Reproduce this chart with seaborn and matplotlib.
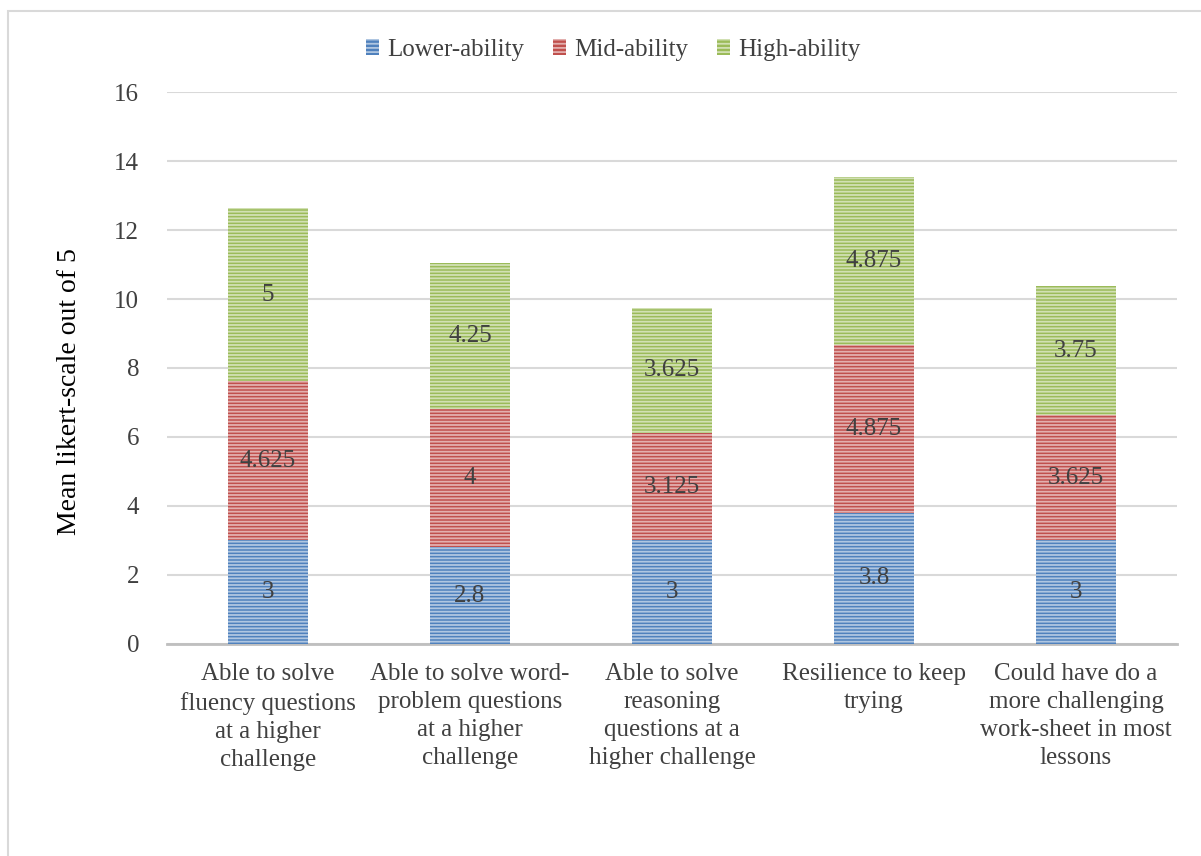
import numpy as np
import pandas as pd
import matplotlib.pyplot as plt
import matplotlib.patches as mpatches
import seaborn as sns

categories = [
    "Able to solve\nfluency questions\nat a higher\nchallenge",
    "Able to solve word-\nproblem questions\nat a higher\nchallenge",
    "Able to solve\nreasoning\nquestions at a\nhigher challenge",
    "Resilience to keep\ntrying",
    "Could have do a\nmore challenging\nwork-sheet in most\nlessons",
]
lower = [3, 2.8, 3, 3.8, 3]
mid = [4.625, 4, 3.125, 4.875, 3.625]
high = [5, 4.25, 3.625, 4.875, 3.75]
series_names = ["Lower-ability", "Mid-ability", "High-ability"]
colors = ["#4F81BD", "#C0504D", "#9BBB59"]

sns.set_style("white")
plt.rcParams["font.family"] = ["Liberation Serif", "DejaVu Serif"]
plt.rcParams["hatch.linewidth"] = 1.3
plt.rcParams["hatch.color"] = "white"
text_col = "#404040"

fig = plt.figure(figsize=(12.01, 8.56), dpi=100)
ax = fig.add_axes([0.139, 0.2477, 0.841, 0.6448])

df = pd.DataFrame({"cat": categories, "Lower-ability": lower,
                   "Mid-ability": mid, "High-ability": high})

bottom = np.zeros(len(categories))
handles = []
for name, col in zip(series_names, colors):
    vals = np.array(df[name], dtype=float)
    n_before = len(ax.patches)
    sns.barplot(x=df["cat"], y=vals, bottom=bottom, color=col, width=0.4,
                ax=ax, saturation=1, zorder=3)
    for p in ax.patches[n_before:]:
        p.set_hatch("-----")
        p.set_edgecolor((1, 1, 1, 0.55))
        p.set_linewidth(0)
    for i, v in enumerate(vals):
        ax.text(i, bottom[i] + v / 2, f"{v:g}", ha="center", va="center",
                fontsize=18, color=text_col, zorder=5)
    handles.append(mpatches.Patch(facecolor=col, hatch="----",
                                  edgecolor=(1, 1, 1, 0.55), linewidth=0,
                                  label=name))
    bottom = bottom + vals

ax.set_xlim(-0.5, 4.5)
ax.set_ylim(0, 16)
ax.set_yticks(range(0, 17, 2))
ax.yaxis.grid(True, color="#d9d9d9", linewidth=1.5, zorder=0)
ax.set_axisbelow(True)
for s in ["top", "right", "left"]:
    ax.spines[s].set_visible(False)
ax.spines["bottom"].set_color("#bfbfbf")
ax.spines["bottom"].set_linewidth(2)
ax.tick_params(axis="both", length=0, labelsize=18, colors=text_col, pad=14)
ax.tick_params(axis="y", pad=20)
for lbl in ax.get_xticklabels():
    lbl.set_linespacing(1.35)
    lbl.set_va("top")
ax.set_xlabel("")
ax.set_ylabel("Mean likert-scale out of 5", fontsize=20, color="black")
ax.yaxis.set_label_coords(-0.084, 0.4565)

fig.legend(handles=handles, loc="center", bbox_to_anchor=(0.511, 0.942),
           ncol=3, frameon=False, fontsize=18, handlelength=0.5,
           handleheight=0.6, handletextpad=0.35, columnspacing=1.15,
           labelcolor=text_col)

border = mpatches.Rectangle((8 / 1201, -0.1), 1.2, 1.1 - 11 / 856,
                            transform=fig.transFigure, fill=False,
                            edgecolor="#d9d9d9", linewidth=1.5)
fig.patches.append(border)

fig.savefig("out.png", dpi=100)
